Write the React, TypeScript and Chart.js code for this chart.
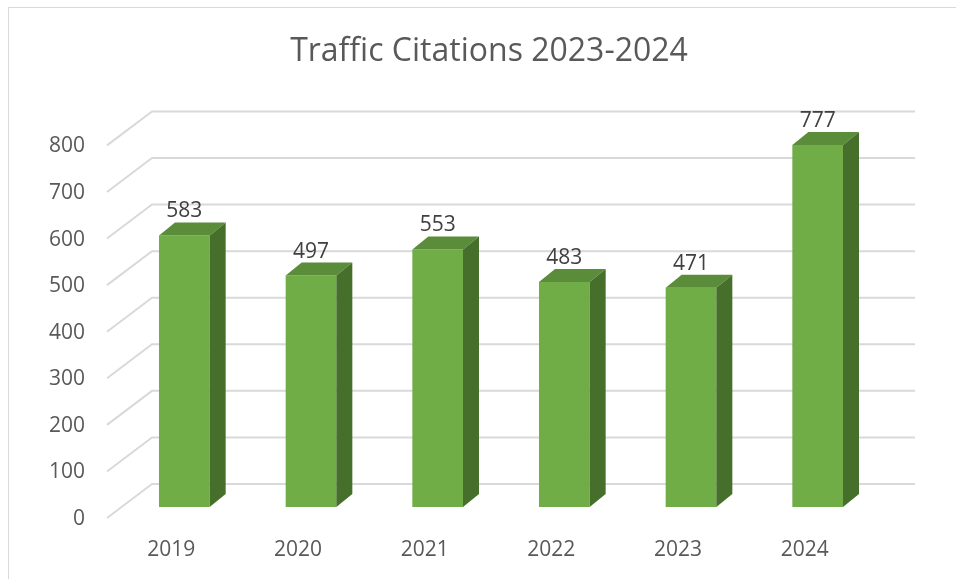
import React, { useEffect, useRef } from "react";
import { Chart, registerables } from "chart.js";

Chart.register(...registerables);

const categories = ["2019", "2020", "2021", "2022", "2023", "2024"];
const citations = [583, 497, 553, 483, 471, 777];
const yTicks = [0, 100, 200, 300, 400, 500, 600, 700, 800];
const titleText = "Traffic Citations 2023-2024";

const FRONT = "#70AD47";
const TOP = "#5B8C3A";
const SIDE = "#476F2C";
const GRID = "#D9D9D9";
const DEPTH_X = 16;
const DEPTH_Y = -13;

const threeD = {
  id: "threeD",
  beforeDatasetsDraw(chart: any) {
    const { ctx, chartArea } = chart;
    const y = chart.scales.y;
    ctx.save();
    ctx.strokeStyle = GRID;
    ctx.lineWidth = 2;
    for (const v of yTicks) {
      const py = y.getPixelForValue(v);
      ctx.beginPath();
      ctx.moveTo(chartArea.left - 14, py + 11);
      ctx.lineTo(chartArea.left + 31, py - 23);
      ctx.lineTo(chartArea.right + 34, py - 23);
      ctx.stroke();
    }
    ctx.restore();
  },
  afterDatasetsDraw(chart: any) {
    const { ctx } = chart;
    const meta = chart.getDatasetMeta(0);
    ctx.save();
    meta.data.forEach((bar: any, i: number) => {
      const { x, y, base, width } = bar.getProps(["x", "y", "base", "width"], true);
      const l = x - width / 2;
      const r = x + width / 2;
      ctx.fillStyle = TOP;
      ctx.beginPath();
      ctx.moveTo(l, y);
      ctx.lineTo(r, y);
      ctx.lineTo(r + DEPTH_X, y + DEPTH_Y);
      ctx.lineTo(l + DEPTH_X, y + DEPTH_Y);
      ctx.closePath();
      ctx.fill();
      ctx.fillStyle = SIDE;
      ctx.beginPath();
      ctx.moveTo(r, y);
      ctx.lineTo(r + DEPTH_X, y + DEPTH_Y);
      ctx.lineTo(r + DEPTH_X, base + DEPTH_Y);
      ctx.lineTo(r, base);
      ctx.closePath();
      ctx.fill();
      ctx.fillStyle = "#404040";
      ctx.font = "21px 'Open Sans'";
      ctx.textAlign = "center";
      ctx.textBaseline = "middle";
      ctx.fillText(String(citations[i]), x, y - 24);
    });
    ctx.restore();
  },
};

export default function App() {
  const ref = useRef<HTMLCanvasElement>(null);
  useEffect(() => {
    if (!ref.current) return;
    const chart = new Chart(ref.current, {
      type: "bar",
      data: {
        labels: categories,
        datasets: [
          {
            data: citations,
            backgroundColor: FRONT,
            borderWidth: 0,
            categoryPercentage: 1,
            barPercentage: 0.4,
          },
        ],
      },
      plugins: [threeD],
      options: {
        animation: false,
        responsive: false,
        layout: { padding: { left: 22, right: 0, top: 0, bottom: 0 } },
        plugins: {
          legend: { display: false },
          tooltip: { enabled: false },
          title: {
            display: true,
            text: titleText,
            color: "#595959",
            font: { family: "'Open Sans'", size: 32, weight: "normal" },
            padding: { top: 33, bottom: 63 },
          },
        },
        scales: {
          x: {
            grid: { display: false },
            border: { display: false },
            ticks: {
              color: "#595959",
              font: { family: "'Open Sans'", size: 21 },
              labelOffset: -13,
              padding: 22,
            },
            afterFit: (s: any) => {
              s.height = 72;
            },
          },
          y: {
            min: 0,
            max: 800,
            grid: { display: false },
            border: { display: false },
            ticks: {
              stepSize: 100,
              color: "#595959",
              font: { family: "'Open Sans'", size: 21 },
              labelOffset: 12,
              padding: 28,
            },
            afterFit: (s: any) => {
              s.width = 99;
            },
          },
          yRight: {
            position: "right",
            min: 0,
            max: 800,
            grid: { display: false },
            border: { display: false },
            ticks: { display: false },
            afterFit: (s: any) => {
              s.width = 75;
            },
          },
        },
      },
    });
    return () => chart.destroy();
  }, []);
  return (
    <div style={{ position: "absolute", left: 0, top: 0, width: 956, height: 579, overflow: "hidden", background: "#fff" }}>
      <canvas ref={ref} width={956} height={579} style={{ position: "absolute", left: 0, top: 0 }} />
      <div style={{ position: "absolute", left: 8, top: 7, width: 1200, height: 1200, border: "1px solid #D9D9D9", pointerEvents: "none" }} />
    </div>
  );
}
